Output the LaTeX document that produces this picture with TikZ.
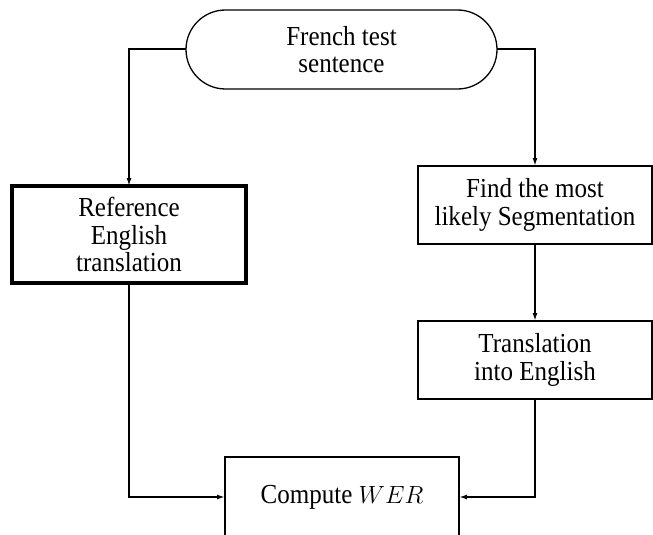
\documentclass[tikz,border=0pt]{standalone}
\usepackage{fontspec}
\setmainfont[FakeStretch=0.91]{Liberation Serif}
\usetikzlibrary{shapes.misc,arrows.meta}
\begin{document}
\begin{tikzpicture}[x=1pt,y=-1pt,
  every node/.style={font=\fontsize{27.5}{27.5}\selectfont, align=center, inner sep=0pt, outer sep=0pt},
  terminal/.style={draw, rounded rectangle, line width=1.3pt, minimum width=311pt, minimum height=79pt},
  procbox/.style={draw, rectangle, line width=2.2pt, minimum width=234pt, minimum height=78pt},
  conn/.style={line width=2pt, -{Latex[length=8pt,width=5pt]}}
]
\useasboundingbox (0,0) rectangle (653,535);

\node[terminal] (start) at (341.5,49.5) {French test\\sentence};
\node[procbox, line width=3.1pt, minimum height=97pt] (ref) at (129,234.5) {Reference\\English\\translation};
\node[procbox] (find) at (535,205) {Find the most\\likely Segmentation};
\node[procbox] (trans) at (535,360) {Translation\\into English};
\node[procbox, minimum height=80pt] (wer) at (342,497) {Compute $WER$};

\draw[conn] (start.west) -| (ref.north);
\draw[conn] (start.east) -| (find.north);
\draw[conn] (find.south) -- (trans.north);
\draw[conn] (ref.south) |- (wer.west);
\draw[conn] (trans.south) |- (wer.east);
\end{tikzpicture}
\end{document}
